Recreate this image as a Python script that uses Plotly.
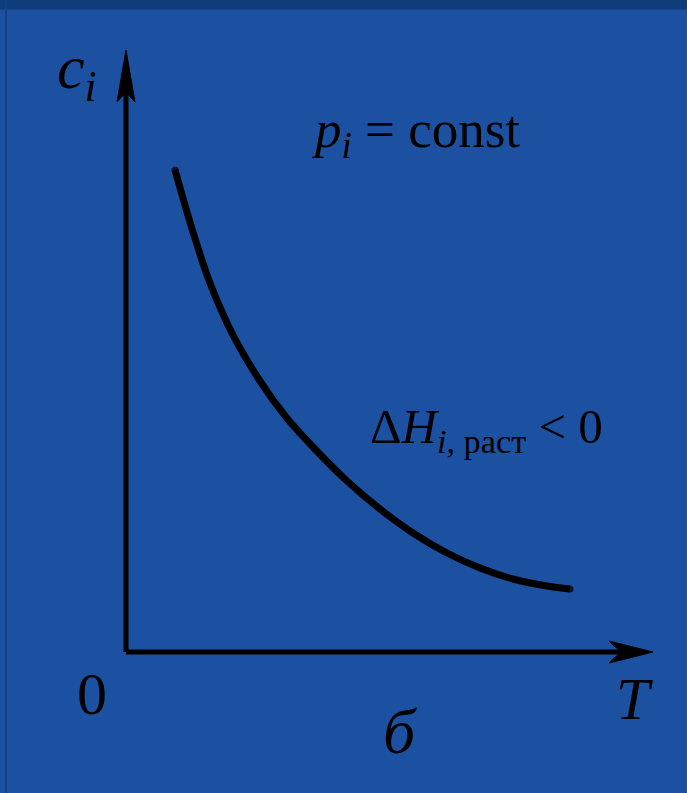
import plotly.graph_objects as go

# Solubility c_i versus temperature T at constant partial pressure (exothermic dissolution)
T_vals = [0.98, 1.34, 1.68, 2.14, 2.68, 3.20, 3.74, 4.42, 5.08, 5.74, 6.42, 7.08, 7.74, 8.42, 8.88]
c_vals = [9.64, 8.40, 7.38, 6.34, 5.42, 4.70, 4.10, 3.42, 2.86, 2.38, 1.98, 1.68, 1.46, 1.32, 1.26]

# Axis extents (arrow tips)
T_axis_end = 10.54
c_axis_end = 12.04

BG = "#1b51a0"
SERIF = "Liberation Serif, Times New Roman, serif"

fig = go.Figure()

n = len(T_vals)
fig.add_trace(go.Scatter(
    x=T_vals, y=c_vals, mode="lines+markers",
    line=dict(color="black", width=7, shape="spline", smoothing=1.0),
    marker=dict(color="black", size=[7] + [0] * (n - 2) + [7], line=dict(width=0)),
    hoverinfo="skip", showlegend=False,
))

shapes = [
    # darker band along the top edge and thin dark rule near the left edge
    dict(type="rect", xref="paper", yref="paper", x0=0, x1=1, y0=0.988, y1=1,
         fillcolor="#0f3d7c", line=dict(width=0), layer="below"),
    dict(type="line", xref="paper", yref="paper", x0=0.0087, x1=0.0087, y0=0, y1=1,
         line=dict(color="#143f82", width=2), layer="below"),
    # axes
    dict(type="line", x0=0, y0=0, x1=T_axis_end - 0.6, y1=0,
         line=dict(color="black", width=5)),
    dict(type="line", x0=0, y0=0, x1=0, y1=c_axis_end - 0.8,
         line=dict(color="black", width=5)),
    # arrowheads
    dict(type="path",
         path=f"M {T_axis_end},0 L {T_axis_end-0.88},0.22 L {T_axis_end-0.64},0 L {T_axis_end-0.88},-0.22 Z",
         fillcolor="black", line=dict(color="black", width=1)),
    dict(type="path",
         path=f"M 0,{c_axis_end} L -0.18,{c_axis_end-1.04} L 0,{c_axis_end-0.84} L 0.18,{c_axis_end-1.04} Z",
         fillcolor="black", line=dict(color="black", width=1)),
]

annotations = [
    dict(x=-1.42, y=11.62, text="<i>c</i><sub><i>i</i></sub>", xanchor="left", yanchor="middle",
         font=dict(family=SERIF, size=62, color="black")),
    dict(x=3.66, y=10.38, text="<i>p</i><sub><i>i</i></sub> = const", xanchor="left", yanchor="middle",
         font=dict(family=SERIF, size=53, color="black")),
    dict(x=4.84, y=4.45, text="Δ<i>H</i><sub><i>i</i>, раст</sub> < 0", xanchor="left", yanchor="middle",
         font=dict(family=SERIF, size=49, color="black")),
    dict(x=-0.68, y=-0.84, text="0", xanchor="center", yanchor="middle",
         font=dict(family=SERIF, size=60, color="black")),
    dict(x=10.16, y=-0.94, text="<i>T</i>", xanchor="center", yanchor="middle",
         font=dict(family=SERIF, size=60, color="black")),
    dict(x=5.48, y=-1.58, text="<i>б</i>", xanchor="center", yanchor="middle",
         font=dict(family=SERIF, size=64, color="black")),
]
for a in annotations:
    a.update(xref="x", yref="y", showarrow=False)

fig.update_layout(
    width=687, height=793,
    margin=dict(l=0, r=0, t=0, b=0),
    paper_bgcolor=BG, plot_bgcolor=BG,
    xaxis=dict(range=[-2.52, 11.22], visible=False, fixedrange=True),
    yaxis=dict(range=[-2.82, 13.04], visible=False, fixedrange=True),
    shapes=shapes, annotations=annotations,
    showlegend=False,
)

fig.write_html("out.html", config={"displayModeBar": False})
